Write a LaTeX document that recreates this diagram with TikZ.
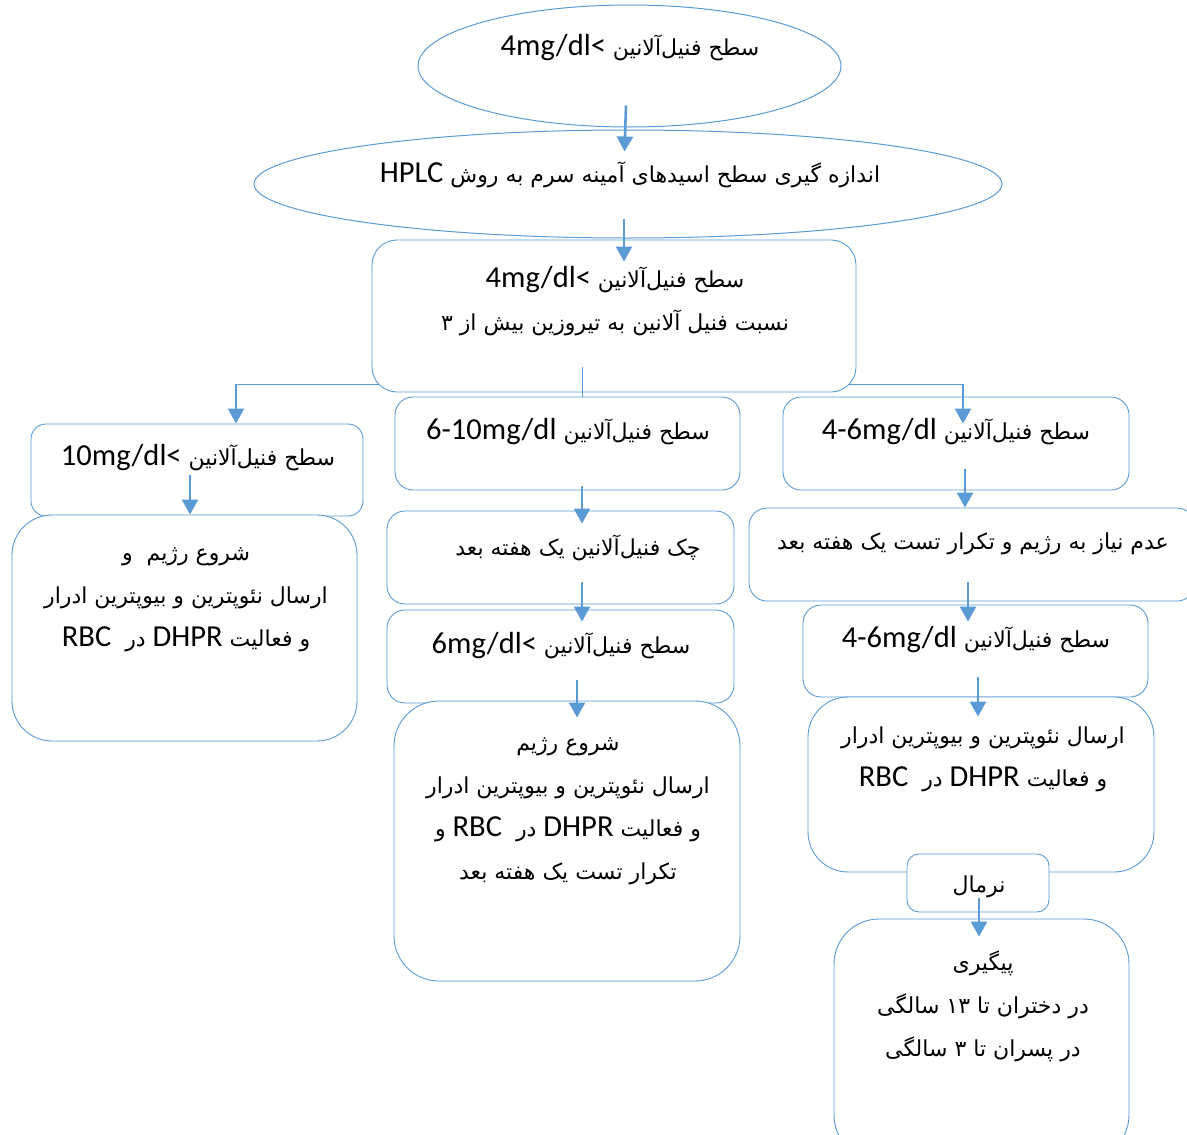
\documentclass[tikz,border=0pt]{standalone}
\usepackage{fontspec}
\usetikzlibrary{shapes.geometric,arrows.meta,calc}
\TeXXeTstate=1
\newfontfamily\fa[Script=Arabic]{DejaVu Sans}
\newfontfamily\lat{Carlito}
\definecolor{bl}{HTML}{5B9BD5}
\newcommand{\lt}[1]{\beginL{\lat\fontsize{30.5}{43}\selectfont #1}\endL}
\newcommand{\rl}[1]{\beginR #1\endR}
\begin{document}
\begin{tikzpicture}[x=1pt,y=-1pt,
  box/.style={draw=bl, line width=0.9pt, fill=white, rectangle, inner sep=0},
  oval/.style={draw=bl, line width=1pt, fill=white, ellipse, inner sep=0},
  txt/.style={font=\fa\fontsize{22}{43}\selectfont, align=center, inner sep=0},
  arr/.style={draw=bl, line width=2.6pt, -{Triangle[width=16pt,length=15pt]}},
  ln/.style={draw=bl, line width=1pt}]
\useasboundingbox (0,0) rectangle (1187,1135);
% ellipses
\node[oval, minimum width=423pt, minimum height=122pt] (e1) at (629.5,66) {};
\node[oval, minimum width=748pt, minimum height=108pt] (e2) at (628,184) {};
% branch line (behind box A)
\coordinate (bl) at (236,384);
\coordinate (br) at (963,384);
\draw[ln] (bl) -- (br);
% boxes
\node[box, rounded corners=25pt, minimum width=484pt, minimum height=152pt] (A) at (614,316) {};
\node[box, rounded corners=15pt, minimum width=332pt, minimum height=92pt] (L1) at (197,470) {};
\node[box, rounded corners=40pt, minimum width=345pt, minimum height=226pt] (L2) at (184.5,628) {};
\node[box, rounded corners=18pt, minimum width=345pt, minimum height=93pt] (M1) at (567.5,443.5) {};
\node[box, rounded corners=18pt, minimum width=347pt, minimum height=93pt] (M2) at (560.5,557.5) {};
\node[box, rounded corners=18pt, minimum width=347pt, minimum height=93pt] (M3) at (560.5,656.5) {};
\node[box, rounded corners=45pt, minimum width=346pt, minimum height=280pt] (M4) at (567,841) {};
\node[box, rounded corners=18pt, minimum width=346pt, minimum height=93pt] (R1) at (956,443.5) {};
\node[box, rounded corners=18pt, minimum width=446pt, minimum height=93pt] (R2) at (972,554.5) {};
\node[box, rounded corners=18pt, minimum width=345pt, minimum height=92pt] (R3) at (975.5,651) {};
\node[box, rounded corners=40pt, minimum width=346pt, minimum height=175pt] (R4) at (981,784.5) {};
\node[box, rounded corners=12pt, minimum width=142pt, minimum height=58pt] (R5) at (978,883) {};
\node[box, rounded corners=45pt, minimum width=295pt, minimum height=241pt] (R6) at (981.5,1039.5) {};
% texts
\node[txt] (t1) at (630,48) {\rl{سطح فنیل^^^^200cآلانین \lt{4mg/dl<}}};
\node[txt] (t2) at (630,175) {\rl{اندازه گیری سطح اسیدهای آمینه سرم به روش \lt{HPLC}}};
\node[txt] (tA) at (615,301) {\rl{سطح فنیل^^^^200cآلانین \lt{4mg/dl<}}\\ \rl{نسبت فنیل آلانین به تیروزین بیش از ۳}};
\node[txt] (tL1) at (198,458) {\rl{سطح فنیل^^^^200cآلانین \lt{10mg/dl<}}};
\node[txt] (tL2) at (186,600) {\rl{شروع رژیم~~و}\\ \rl{ارسال نئوپترین و بیوپترین ادرار}\\ \rl{و فعالیت \lt{DHPR} در~~\lt{RBC}}};
\node[txt] (tM1) at (568,432) {\rl{سطح فنیل^^^^200cآلانین \lt{6-10mg/dl}}};
\node[txt] (tM2) at (578,548) {\rl{چک فنیل^^^^200cآلانین یک هفته بعد}};
\node[txt] (tM3) at (561,646) {\rl{سطح فنیل^^^^200cآلانین \lt{6mg/dl<}}};
\node[txt] (tM4) at (568,811) {\rl{شروع رژیم}\\ \rl{ارسال نئوپترین و بیوپترین ادرار}\\ \rl{و فعالیت \lt{DHPR} در~~\lt{RBC} و}\\ \rl{تکرار تست یک هفته بعد}};
\node[txt] (tR1) at (956,432) {\rl{سطح فنیل^^^^200cآلانین \lt{4-6mg/dl}}};
\node[txt] (tR2) at (973,544) {\rl{عدم نیاز به رژیم و تکرار تست یک هفته بعد}};
\node[txt] (tR3) at (976,640) {\rl{سطح فنیل^^^^200cآلانین \lt{4-6mg/dl}}};
\node[txt] (tR4) at (983,759) {\rl{ارسال نئوپترین و بیوپترین ادرار}\\ \rl{و فعالیت \lt{DHPR} در~~\lt{RBC}}};
\node[txt] (tR5) at (979,887) {\rl{نرمال}};
\node[txt] (tR6) at (983,1006) {\rl{پیگیری}\\ \rl{در دختران تا \beginL۱۳\endL{} سالگی}\\ \rl{در پسران تا ۳ سالگی}};
% connectors
\draw[arr] ($(e1.south)+(-3.5,-22)$) -- ($(e2.north)+(-3.5,22)$);
\draw[arr] ($(e2.south)+(-4,-20)$) -- ($(A.north)+(10,22)$);
\draw[ln] ($(A.south)+(-32,-25)$) -- ($(M1.north)+(14.5,0)$);
\draw[arr] (bl) -- ($(L1.north)+(39,0)$);
\draw[arr] (br) -- ($(R1.north)+(7,27)$);
\draw[arr] ($(L1.south)+(-7,-41)$) -- ($(L2.north)+(5.5,0)$);
\draw[arr] ($(M1.south)+(14.5,-4)$) -- ($(M2.north)+(21.5,13)$);
\draw[arr] ($(M2.south)+(21.5,-22)$) -- ($(M3.north)+(21.5,12)$);
\draw[arr] ($(M3.south)+(16.5,-23)$) -- ($(M4.north)+(10,17)$);
\draw[arr] ($(R1.south)+(9,-21)$) -- ($(R2.north)+(-7,0)$);
\draw[arr] ($(R2.south)+(-4,-19)$) -- ($(R3.north)+(-7.5,17)$);
\draw[arr] ($(R3.south)+(2.5,-20)$) -- ($(R4.north)+(-3,20)$);
\draw[arr] ($(R5.south)+(1,-14)$) -- ($(R6.north)+(-2.5,18)$);
\end{tikzpicture}
\end{document}
